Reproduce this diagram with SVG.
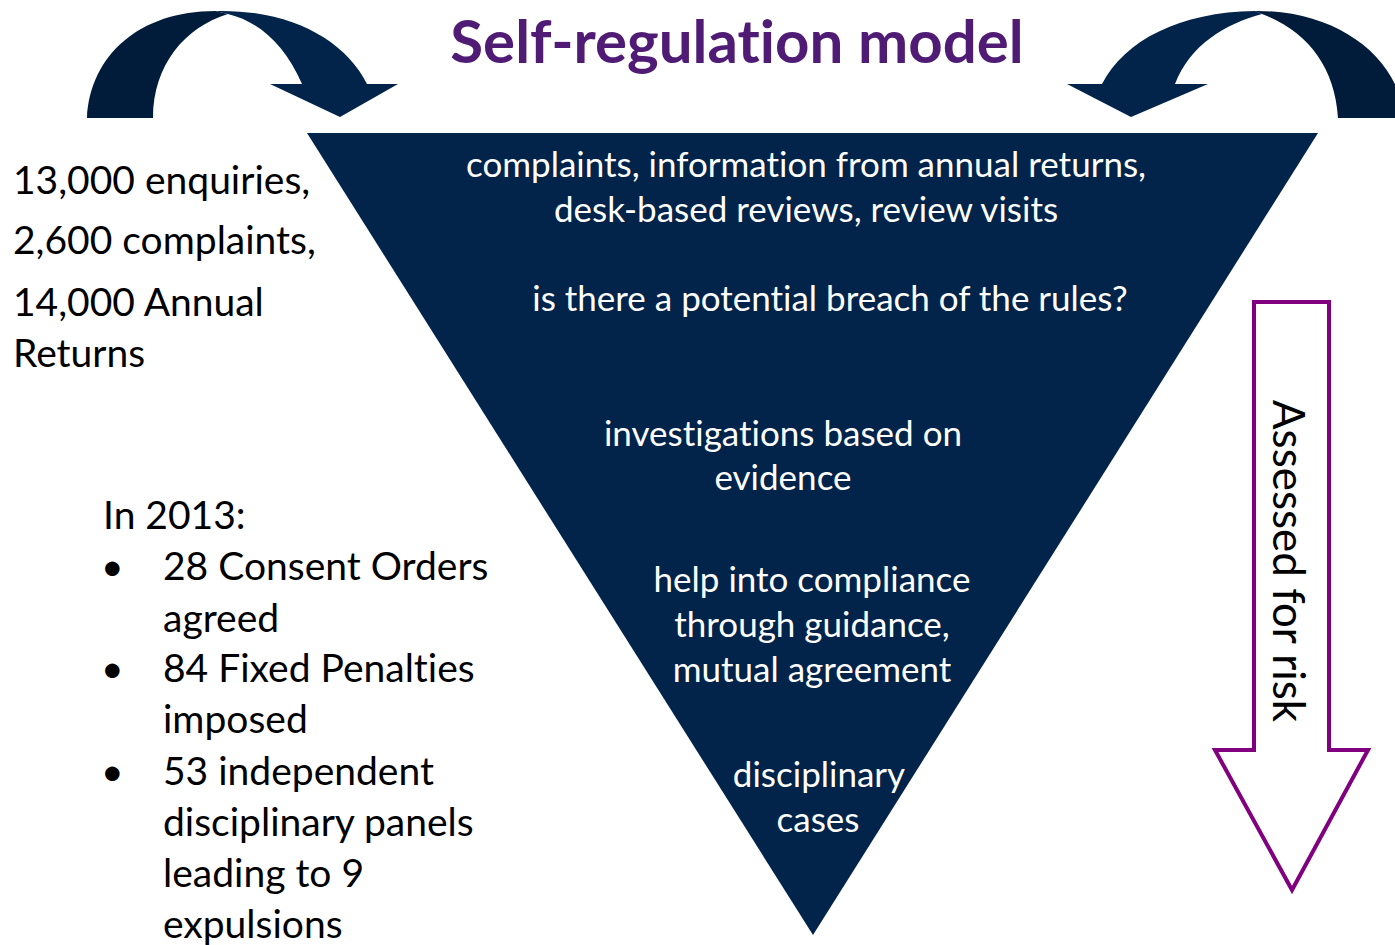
<svg xmlns="http://www.w3.org/2000/svg" width="1395" height="945" viewBox="0 0 1395 945">
<style>
text{font-variant-ligatures:none;font-feature-settings:"liga" 0}
.tw{font-family:Lato,"Liberation Sans",sans-serif;font-size:35px;fill:#ffffff;text-anchor:middle}
.tb{font-family:Lato,"Liberation Sans",sans-serif;font-size:39px;fill:#000000}
.back{fill:#011c3a}
.front{fill:#02234a}
</style>
<rect width="1395" height="945" fill="#ffffff"/>
<g id="title">
<text x="737" y="63" font-family="Lato,'Liberation Sans',sans-serif" font-weight="bold" font-size="60" fill="#4f1b74" text-anchor="middle">Self-regulation model</text>
</g>
<g id="connectors">
<g id="curved-arrow-left">
<path class="back" d="M87,118 C90,55 140,11 215,11 L228,14 C185,27 153,65 153,118 Z"/>
<path class="front" d="M215,11 C290,9 345,40 367,84 L398,84 L340,117 L270,84 L302,84 C285,45 260,22 228,14 Z"/>
</g>
<g id="curved-arrow-right">
<path class="back" d="M1255,11 C1340,10 1400,60 1404,118 L1338,118 C1335,65 1305,30 1262,14 Z"/>
<path class="front" d="M1102,84 C1125,40 1180,12 1255,11 L1262,14 C1225,24 1190,45 1175,84 L1208,84 L1131,117 L1067,84 Z"/>
</g>
<g id="risk-arrow">
<path d="M1254,302 L1329,302 L1329,750 L1368,750 L1292,890 L1215,750 L1254,750 Z" fill="#ffffff" stroke="#800080" stroke-width="4"/>
<text transform="translate(1273,561) rotate(90)" font-family="Lato,'Liberation Sans',sans-serif" font-size="44" fill="#000000" text-anchor="middle">Assessed for risk</text>
</g>
</g>
<g id="funnel">
<path d="M307,133 L1318,133 L813,935 Z" fill="#02234a"/>
<text class="tw" x="806" y="177">complaints, information from annual returns,</text>
<text class="tw" x="806" y="222">desk-based reviews, review visits</text>
<text class="tw" x="830" y="311">is there a potential breach of the rules?</text>
<text class="tw" x="783" y="446">investigations based on</text>
<text class="tw" x="783" y="490">evidence</text>
<text class="tw" x="812" y="592">help into compliance</text>
<text class="tw" x="812" y="637">through guidance,</text>
<text class="tw" x="812" y="682">mutual agreement</text>
<text class="tw" x="819" y="787">disciplinary</text>
<text class="tw" x="818" y="832">cases</text>
</g>
<g id="stats">
<text class="tb" x="13" y="194">13,000 enquiries,</text>
<text class="tb" x="13" y="254">2,600 complaints,</text>
<text class="tb" x="13" y="316">14,000 Annual</text>
<text class="tb" x="13" y="367">Returns</text>
</g>
<g id="year-2013">
<text class="tb" x="103" y="529">In 2013:</text>
<text class="tb" x="101" y="580">•</text>
<text class="tb" x="163" y="580">28 Consent Orders</text>
<text class="tb" x="163" y="632">agreed</text>
<text class="tb" x="101" y="682">•</text>
<text class="tb" x="163" y="682">84 Fixed Penalties</text>
<text class="tb" x="163" y="733">imposed</text>
<text class="tb" x="101" y="785">•</text>
<text class="tb" x="163" y="785">53 independent</text>
<text class="tb" x="163" y="836">disciplinary panels</text>
<text class="tb" x="163" y="887">leading to 9</text>
<text class="tb" x="163" y="938">expulsions</text>
</g>
</svg>
